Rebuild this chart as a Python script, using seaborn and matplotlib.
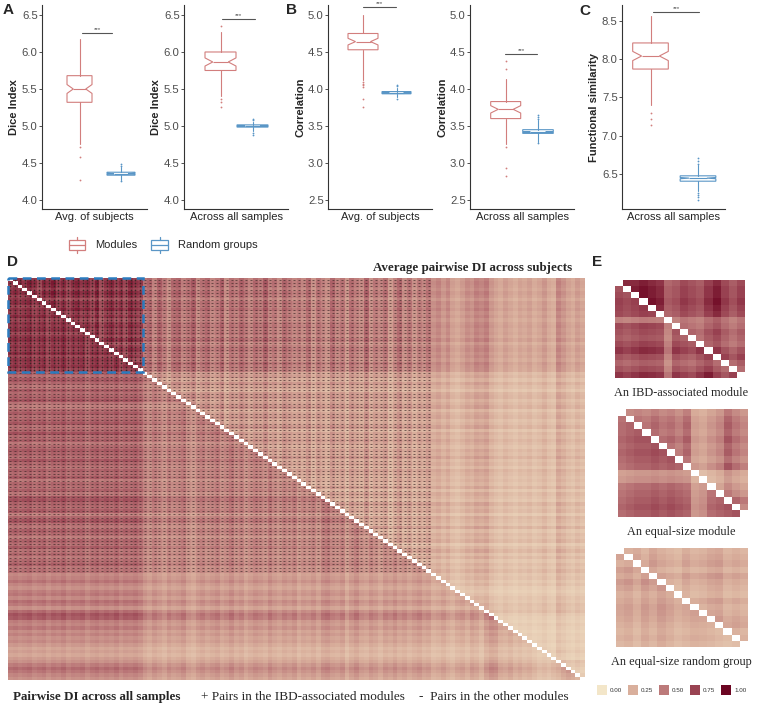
import numpy as np
import matplotlib
matplotlib.use("Agg")
import matplotlib.pyplot as plt
import matplotlib.ticker as mticker
import seaborn as sns
from matplotlib.colors import LinearSegmentedColormap
from matplotlib.patches import Rectangle
from matplotlib.lines import Line2D
from matplotlib.legend_handler import HandlerBase

sns.set_theme(style="white")
plt.rcParams["font.family"] = ["Liberation Sans", "DejaVu Sans"]
SERIF = ["Liberation Serif", "DejaVu Serif"]

# ---------------- data: panels A-C (box summaries) ----------------
YLABELS = ["Dice Index", "Dice Index", "Correlation", "Correlation", "Functional similarity"]
XLABELS = ["Avg. of subjects", "Across all samples", "Avg. of subjects",
           "Across all samples", "Across all samples"]
GROUPS = ["Modules", "Random groups"]

MOD_MED = [5.50, 5.865, 4.64, 3.725, 8.04]
MOD_Q1 = [5.32, 5.75, 4.53, 3.60, 7.87]
MOD_Q3 = [5.68, 6.00, 4.75, 3.83, 8.21]
MOD_LO = [4.75, 5.40, 4.12, 3.26, 7.40]
MOD_HI = [6.17, 6.27, 5.00, 4.14, 8.56]
MOD_NOTCH = [0.06, 0.055, 0.045, 0.05, 0.06]
MOD_FLIERS = [[4.72, 4.58, 4.27],
              [6.35, 5.37, 5.32, 5.26],
              [4.10, 4.07, 4.05, 4.03, 3.86, 3.75],
              [4.27, 4.38, 3.22, 2.93, 2.83],
              [7.30, 7.22, 7.14]]

RND_MED = [4.355, 5.00, 3.95, 3.42, 6.45]
RND_Q1 = [4.335, 4.985, 3.935, 3.40, 6.41]
RND_Q3 = [4.375, 5.015, 3.965, 3.45, 6.48]
RND_LO = [4.27, 4.93, 3.89, 3.28, 6.28]
RND_HI = [4.44, 5.06, 4.02, 3.58, 6.62]
RND_NOTCH = [0.005, 0.004, 0.004, 0.006, 0.008]
RND_FLIERS = [[4.46, 4.48, 4.25],
              [4.90, 4.88, 5.08, 5.10],
              [3.87, 4.04, 4.05],
              [3.27, 3.60, 3.62, 3.65],
              [6.64, 6.67, 6.71, 6.26, 6.23, 6.20, 6.16]]

SIG_Y = [6.26, 6.45, 5.11, 4.47, 8.61]
YTICKS = [[4.0, 4.5, 5.0, 5.5, 6.0, 6.5], [4.0, 4.5, 5.0, 5.5, 6.0, 6.5],
          [2.5, 3.0, 3.5, 4.0, 4.5, 5.0], [2.5, 3.0, 3.5, 4.0, 4.5, 5.0],
          [6.5, 7.0, 7.5, 8.0, 8.5]]
YLIMS = [(3.878, 6.635), (3.878, 6.635), (2.378, 5.135), (2.378, 5.135), (6.048, 8.704)]

# ---------------- data: panel D (per-item strength profiles) ----------------
N_ITEMS = 120
IBD_SIZE = 28
MARKED_N = 88
UPPER_PROFILE = [
    0.88, 0.95, 0.92, 0.85, 0.96, 0.90, 0.78, 0.93, 0.88, 0.97, 0.84, 0.92, 0.80, 0.90,
    0.94, 0.86, 0.91, 0.82, 0.96, 0.76, 0.88, 0.93, 0.83, 0.90, 0.79, 0.94, 0.87, 0.84,
    0.58, 0.65, 0.50, 0.68, 0.56, 0.44, 0.63, 0.67, 0.52, 0.60, 0.70, 0.47, 0.59, 0.65,
    0.50, 0.56, 0.68, 0.45, 0.61, 0.54, 0.66, 0.58, 0.49, 0.63, 0.55, 0.70, 0.51, 0.59,
    0.47, 0.64, 0.57, 0.50,
    0.56, 0.48, 0.63, 0.42, 0.59, 0.51, 0.44, 0.65, 0.50, 0.58, 0.40, 0.61, 0.53, 0.46,
    0.67, 0.43, 0.56, 0.49, 0.60, 0.38, 0.51, 0.64, 0.45, 0.58, 0.42, 0.54, 0.47, 0.59,
    0.44, 0.50, 0.40, 0.48, 0.36, 0.32, 0.38, 0.46, 0.42, 0.52, 0.48, 0.54, 0.40, 0.34,
    0.30, 0.37, 0.32, 0.28, 0.34, 0.31, 0.36, 0.29, 0.33, 0.40, 0.31, 0.28, 0.50, 0.42,
    0.34, 0.30, 0.38, 0.32,
]
LOWER_PROFILE = [
    0.88, 0.92, 0.86, 0.90, 0.94, 0.84, 0.89, 0.93, 0.82, 0.91, 0.87, 0.95, 0.83, 0.90,
    0.88, 0.92, 0.80, 0.89, 0.93, 0.85, 0.91, 0.86, 0.94, 0.82, 0.90, 0.87, 0.92, 0.84,
    0.70, 0.62, 0.74, 0.66, 0.58, 0.72, 0.64, 0.68, 0.76, 0.60, 0.54, 0.66, 0.72, 0.63,
    0.69, 0.75, 0.61, 0.67, 0.78, 0.64, 0.71, 0.57, 0.65, 0.73, 0.68, 0.62, 0.76, 0.66,
    0.60, 0.70, 0.64, 0.72,
    0.56, 0.66, 0.62, 0.70, 0.58, 0.74, 0.78, 0.68, 0.64, 0.72, 0.52, 0.66, 0.76, 0.62,
    0.58, 0.70, 0.64, 0.54, 0.68, 0.62, 0.72, 0.60, 0.66, 0.56, 0.64, 0.70, 0.58, 0.62,
    0.48, 0.52, 0.60, 0.50, 0.44, 0.54, 0.58, 0.48, 0.62, 0.56, 0.44, 0.64, 0.76, 0.72,
    0.54, 0.50, 0.58, 0.46, 0.52, 0.44, 0.48, 0.40, 0.33, 0.37, 0.32, 0.39, 0.44, 0.55,
    0.64, 0.58, 0.50, 0.44,
]

# ---------------- data: panel E (16-item modules) ----------------
E_TITLES = ["An IBD-associated module", "An equal-size module", "An equal-size random group"]
E_UPPER = [
    [0.90, 0.95, 0.95, 1.00, 0.95, 0.90, 0.65, 0.70, 0.80, 0.75, 0.70, 0.85, 0.95, 0.80, 0.70, 0.80],
    [0.60, 0.70, 0.75, 0.70, 0.80, 0.70, 0.75, 0.65, 0.80, 0.45, 0.40, 0.50, 0.60, 0.85, 0.70, 0.60],
    [0.46, 0.52, 0.58, 0.46, 0.62, 0.52, 0.46, 0.42, 0.56, 0.46, 0.50, 0.58, 0.62, 0.46, 0.52, 0.46],
]
E_LOWER = [
    [0.85, 0.80, 0.85, 0.90, 0.88, 0.85, 0.55, 0.85, 0.80, 0.75, 0.85, 0.95, 0.80, 0.70, 0.80, 0.95],
    [0.70, 0.75, 0.80, 0.80, 0.85, 0.80, 0.85, 0.80, 0.75, 0.45, 0.50, 0.70, 0.75, 0.80, 0.85, 0.80],
    [0.52, 0.58, 0.46, 0.62, 0.52, 0.66, 0.56, 0.46, 0.52, 0.58, 0.56, 0.52, 0.46, 0.42, 0.46, 0.40],
]
LEGEND_TICKS = [0.00, 0.25, 0.50, 0.75, 1.00]

# ---------------- style ----------------
W, H = 759, 705
MOD_COLOR = "#D27E7D"
RND_COLOR = "#5A96C6"
CMAP = LinearSegmentedColormap.from_list(
    "di", ["#F3E6C9", "#D9AF9C", "#BC7A7A", "#9A4453", "#6C0522"])

# pixel layout of the five box panels: axis x-range, box centres/widths, bar span
AX_X = [(42, 147), (184, 288), (328, 432), (470, 574), (622, 725)]
BOX_C = [(79.5, 121), (220.5, 252.5), (363, 396.5), (505.7, 538), (650.5, 698)]
BOX_W = [(25, 28), (31, 31), (30, 29), (30, 30.6), (35.6, 35.7)]
BAR_X = [(82, 112), (222, 255), (363, 396), (505, 537), (653, 699)]
AX_TOP, AX_BOT = 5, 209

fig = plt.figure(figsize=(W / 100, H / 100), dpi=100)


def px_axes(x0, y0, x1, y1):
    return fig.add_axes([x0 / W, 1 - y1 / H, (x1 - x0) / W, (y1 - y0) / H])


for k in range(5):
    L, R = AX_X[k]
    span = R - L
    ax = px_axes(L, AX_TOP, R, AX_BOT)
    stats = [
        dict(med=MOD_MED[k], q1=MOD_Q1[k], q3=MOD_Q3[k], whislo=MOD_LO[k], whishi=MOD_HI[k],
             fliers=MOD_FLIERS[k], cilo=MOD_MED[k] - MOD_NOTCH[k], cihi=MOD_MED[k] + MOD_NOTCH[k]),
        dict(med=RND_MED[k], q1=RND_Q1[k], q3=RND_Q3[k], whislo=RND_LO[k], whishi=RND_HI[k],
             fliers=RND_FLIERS[k], cilo=RND_MED[k] - RND_NOTCH[k], cihi=RND_MED[k] + RND_NOTCH[k]),
    ]
    for s, c, cx, bw in zip(stats, [MOD_COLOR, RND_COLOR], BOX_C[k], BOX_W[k]):
        ax.bxp([s], positions=[(cx - L) / span], widths=[bw / span], shownotches=True,
               showcaps=False, patch_artist=True,
               boxprops=dict(facecolor="white", edgecolor=c, linewidth=0.8),
               medianprops=dict(color=c, linewidth=0.8),
               whiskerprops=dict(color=c, linewidth=0.8),
               flierprops=dict(marker="o", markersize=1.3, markerfacecolor=c,
                               markeredgecolor="none"))
    bx0, bx1 = [(v - L) / span for v in BAR_X[k]]
    ax.plot([bx0, bx1], [SIG_Y[k]] * 2, color="#555555", lw=0.8)
    ax.annotate("***", ((bx0 + bx1) / 2, SIG_Y[k]), xytext=(0, 0.5), textcoords="offset points",
                ha="center", va="bottom", fontsize=4.5, color="#444444")
    ax.set_xlim(0, 1)
    ax.set_ylim(*YLIMS[k])
    ax.set_yticks(YTICKS[k])
    ax.yaxis.set_major_formatter(mticker.FormatStrFormatter("%.1f"))
    ax.set_xticks([])
    ax.tick_params(axis="y", left=True, length=1.9, width=0.6, color="#333333",
                   labelsize=8.2, labelcolor="#4D4D4D", pad=1.2)
    for side in ["top", "right"]:
        ax.spines[side].set_visible(False)
    for side in ["left", "bottom"]:
        ax.spines[side].set_color("#333333")
        ax.spines[side].set_linewidth(0.8)
    ax.set_ylabel(YLABELS[k], fontsize=8, fontweight="bold", labelpad=2)
    ax.set_xlabel(XLABELS[k], fontsize=8, labelpad=2)
    ax.set_facecolor("white")

for lab, x, y in [("A", 3, 10), ("B", 286, 10), ("C", 579, 11), ("D", 7, 262), ("E", 592, 262)]:
    fig.text(x / W, 1 - y / H, lab, fontsize=11, fontweight="bold", ha="left", va="center")


class BoxGlyph(HandlerBase):
    def create_artists(self, legend, orig_handle, xdescent, ydescent, width, height,
                       fontsize, trans):
        c = orig_handle.get_color()
        x0 = -xdescent
        y0 = -ydescent
        cx = x0 + width / 2
        box = Rectangle((x0, y0), width, height, fill=False, edgecolor=c, lw=0.9,
                        transform=trans)
        med = Line2D([x0, x0 + width], [y0 + height / 2] * 2, color=c, lw=0.9, transform=trans)
        wl = Line2D([cx, cx], [y0 - 0.3 * height, y0], color=c, lw=0.9, transform=trans)
        wh = Line2D([cx, cx], [y0 + height, y0 + 1.3 * height], color=c, lw=0.9,
                    transform=trans)
        return [box, med, wl, wh]


handles = [Line2D([], [], color=MOD_COLOR, label=GROUPS[0]),
           Line2D([], [], color=RND_COLOR, label=GROUPS[1])]
fig.legend(handles=handles, loc="center", bbox_to_anchor=(163 / W, 1 - 245 / H), ncol=2,
           frameon=False, fontsize=8, handlelength=1.45, handleheight=1.0, handletextpad=0.9,
           columnspacing=1.3, handler_map={Line2D: BoxGlyph()})

# ---------------- panel D ----------------
up = np.array(UPPER_PROFILE)
lo = np.array(LOWER_PROFILE)
ii, jj = np.indices((N_ITEMS, N_ITEMS))
mat = np.where(ii < jj, up[ii] * up[jj], lo[ii] * lo[jj])
mat[ii == jj] = np.nan

ax_d = px_axes(8, 278, 585, 680)
sns.heatmap(mat, cmap=CMAP, vmin=0, vmax=1, cbar=False, ax=ax_d,
            xticklabels=False, yticklabels=False)
ax_d.set_facecolor("white")

mi, mj = np.nonzero((ii < MARKED_N) & (jj < MARKED_N) & (ii != jj))
in_ibd = (mi < IBD_SIZE) & (mj < IBD_SIZE)
ax_d.scatter(mj[in_ibd] + 0.5, mi[in_ibd] + 0.5, marker="+", s=2.0, linewidths=0.4,
             color="#3B2626")
ax_d.scatter(mj[~in_ibd] + 0.5, mi[~in_ibd] + 0.5, marker="_", s=2.0, linewidths=0.45,
             color="#3B2626")
ax_d.add_patch(Rectangle((0, 0), IBD_SIZE, IBD_SIZE, fill=False, edgecolor="#2B7BBE",
                         lw=1.8, ls=(0, (3.5, 2.2)), clip_on=False, zorder=5))

fig.text(572 / W, 1 - 268 / H, "Average pairwise DI across subjects", ha="right", va="center",
         fontsize=9.4, fontweight="bold", family=SERIF)
fig.text(13 / W, 1 - 697 / H, "Pairwise DI across all samples", ha="left", va="center",
         fontsize=9.4, fontweight="bold", family=SERIF)
fig.text(201 / W, 1 - 697 / H, "+ Pairs in the IBD-associated modules", ha="left",
         va="center", fontsize=9.5, family=SERIF)
fig.text(419 / W, 1 - 697 / H, "-  Pairs in the other modules", ha="left", va="center",
         fontsize=9.5, family=SERIF)

# ---------------- panel E ----------------
E_BOXES = [(615, 280, 745, 378), (618, 409, 748, 517), (616, 548, 748, 647)]
E_CAP_Y = [393, 532, 662]
for k in range(3):
    eu = np.array(E_UPPER[k])
    el = np.array(E_LOWER[k])
    a, b = np.indices((len(eu), len(eu)))
    em = np.where(a < b, eu[a] * eu[b], el[a] * el[b])
    em[a == b] = np.nan
    ax_e = px_axes(*E_BOXES[k])
    sns.heatmap(em, cmap=CMAP, vmin=0, vmax=1, cbar=False, ax=ax_e,
                xticklabels=False, yticklabels=False)
    ax_e.set_facecolor("white")
    fig.text(681 / W, 1 - E_CAP_Y[k] / H, E_TITLES[k], ha="center", va="center",
             fontsize=8.8, family=SERIF)

for n, v in enumerate(LEGEND_TICKS):
    cx = 602 + 31 * n
    fig.add_artist(Rectangle(((cx - 5) / W, 1 - 695 / H), 10 / W, 10 / H,
                             transform=fig.transFigure, facecolor=CMAP(v), edgecolor="none"))
    fig.text((cx + 8) / W, 1 - 690 / H, f"{v:.2f}", fontsize=4.5, va="center", ha="left",
             color="#333333")

fig.savefig("out.png", dpi=100)
